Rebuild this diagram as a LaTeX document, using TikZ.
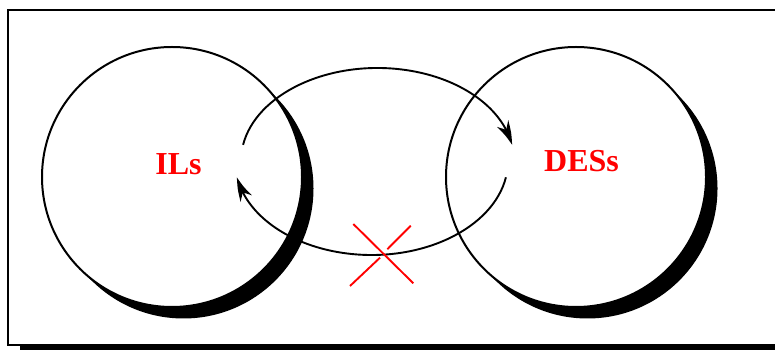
\documentclass[tikz,border=0pt]{standalone}
\usepackage{fontspec}
\setmainfont{Liberation Serif}
\usetikzlibrary{arrows.meta, positioning, shadows, bending}

\begin{document}
\begin{tikzpicture}[
    x=1pt, y=1pt,
    frame/.style={draw=black, line width=1.8pt, fill=white,
                  drop shadow={shadow xshift=12pt, shadow yshift=-12pt,
                               opacity=1, fill=black}},
    ring/.style={circle, draw=black, line width=2pt, fill=white,
                 minimum size=260pt, inner sep=0pt,
                 drop shadow={shadow xshift=11.5pt, shadow yshift=-11.5pt,
                              opacity=1, fill=black}},
    tag/.style={text=red, font=\fontsize{32}{36}\selectfont\bfseries,
                inner sep=0pt},
    flow/.style={draw=black, line width=1.9pt,
                 -{Stealth[length=23pt, width=13pt, inset=7pt, bend]}},
    cross/.style={draw=red, line width=1.9pt}
  ]
    \clip (0,0) rectangle (775,350);
    \useasboundingbox (0,0) rectangle (775,350);

    % outer box, its right side runs off the page
    \draw[frame] (8,340) rectangle (790,5);

    % the two liquid classes
    \node[ring] (il) at (172,173) {};
    \node[ring] (des) [right=142pt of il] {};

    \node[tag] (iltag) at (178.5,185.8) {ILs};
    \node[tag] (destag) at (581.5,189.2) {DESs};

    % conversion arcs
    \coordinate (fwd) at (377.5,189);
    \coordinate (back) at (371.5,189);
    \draw[flow] (fwd) ++(170:136.5 and 93)
      arc[start angle=170, end angle=10, x radius=136.5, y radius=93];
    \draw[flow] (back) ++(-10:136.5 and 94)
      arc[start angle=-10, end angle=-170, x radius=136.5, y radius=94];

    % the reverse way is blocked
    \coordinate (stop) at (383,97);
    \draw[cross] (stop) ++(-29.7,29) -- ++(60,-59.3);
    \draw[cross] (stop) ++(27.7,27.3) -- ++(-23.4,-23.6);
    \draw[cross] (stop) ++(-3,-4.7) -- ++(-30,-28.3);
  \end{tikzpicture}
\end{document}
